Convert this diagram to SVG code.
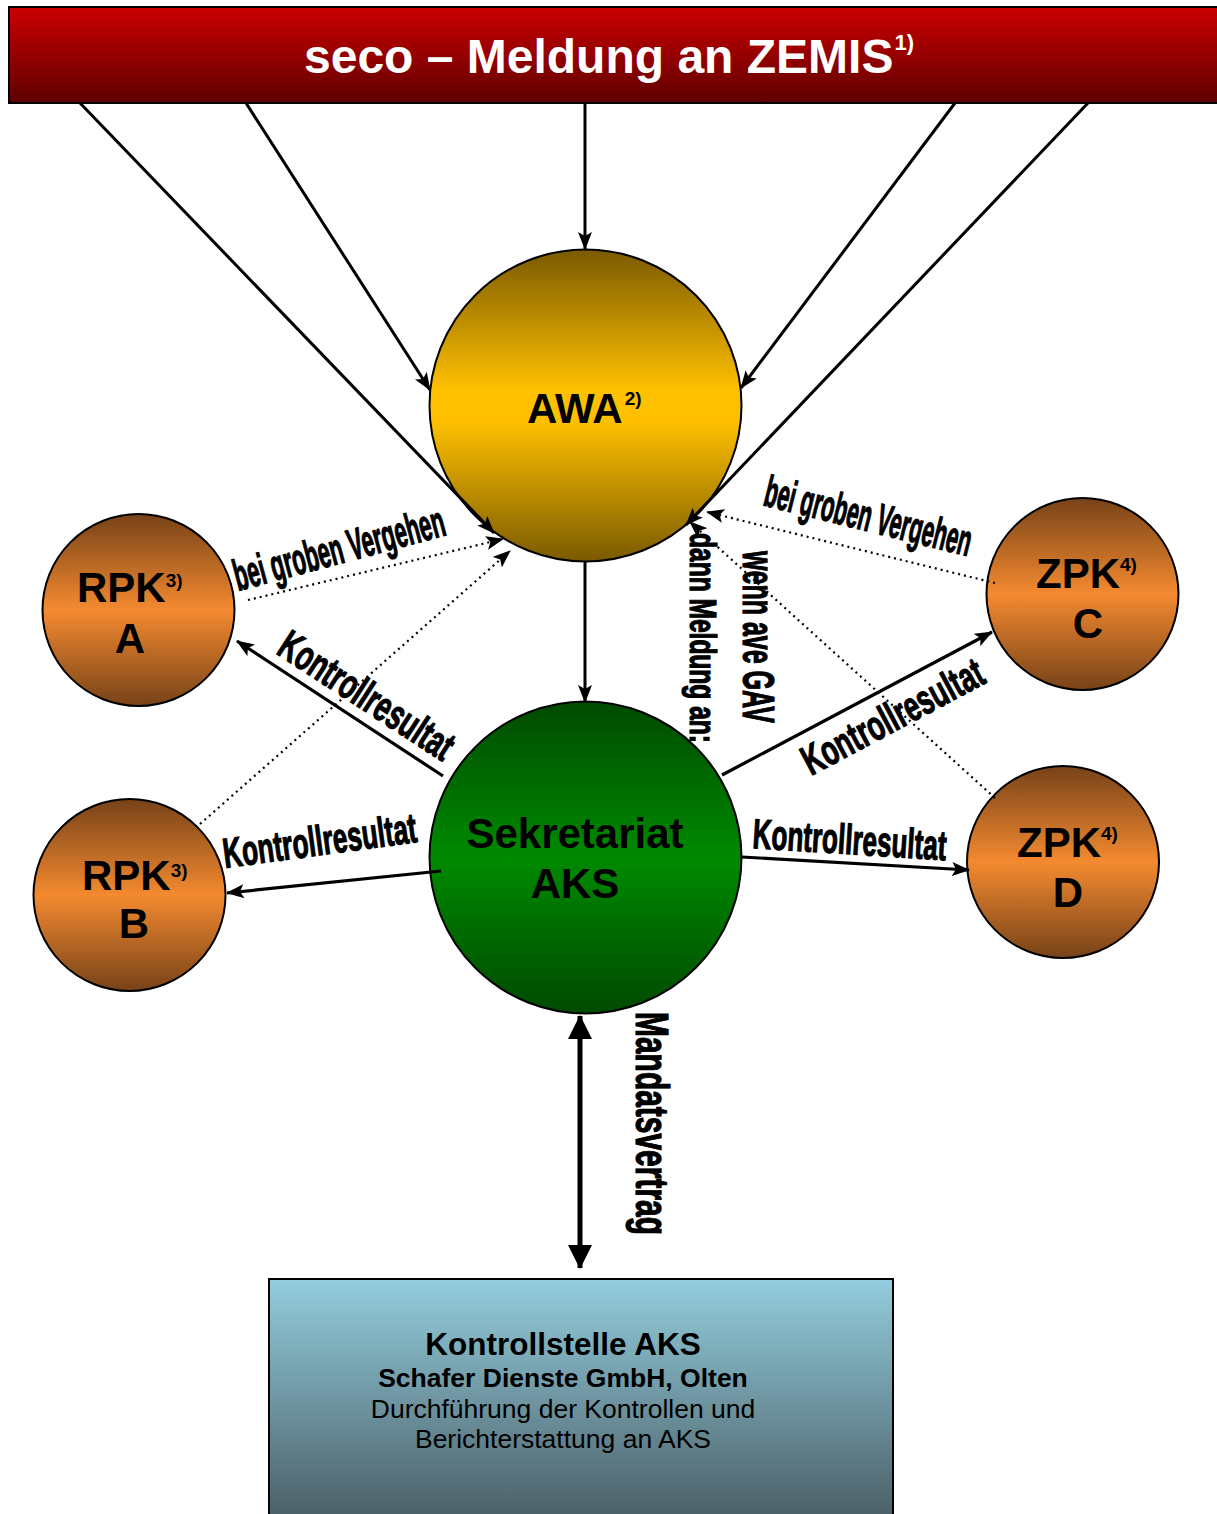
<svg xmlns="http://www.w3.org/2000/svg" width="1217" height="1514" viewBox="0 0 1217 1514">
<defs>
<linearGradient id="gRed" x1="0" y1="0" x2="0" y2="1"><stop offset="0" stop-color="#cc0000"/><stop offset="1" stop-color="#5e0000"/></linearGradient>
<linearGradient id="gAwa" x1="0" y1="0" x2="0" y2="1"><stop offset="0" stop-color="#7a5a00"/><stop offset="0.45" stop-color="#ffc000"/><stop offset="0.55" stop-color="#ffc000"/><stop offset="1" stop-color="#7a5a00"/></linearGradient>
<linearGradient id="gSek" x1="0" y1="0" x2="0" y2="1"><stop offset="0" stop-color="#004a00"/><stop offset="0.5" stop-color="#008a00"/><stop offset="1" stop-color="#004a00"/></linearGradient>
<linearGradient id="gOr" x1="0" y1="0" x2="0" y2="1"><stop offset="0" stop-color="#774218"/><stop offset="0.5" stop-color="#f48a30"/><stop offset="1" stop-color="#774218"/></linearGradient>
<linearGradient id="gBox" x1="0" y1="0" x2="0" y2="1"><stop offset="0" stop-color="#93cddd"/><stop offset="1" stop-color="#485a62"/></linearGradient>
<marker id="ah" viewBox="0 0 18 14" markerUnits="userSpaceOnUse" markerWidth="18" markerHeight="14" refX="17" refY="7" orient="auto"><path d="M0,0 L18,7 L0,14 L4,7 z" fill="#000"/></marker>
<marker id="ahBig" viewBox="0 0 24 24" markerUnits="userSpaceOnUse" markerWidth="24" markerHeight="24" refX="23" refY="12" orient="auto-start-reverse"><path d="M0,0 L24,12 L0,24 z" fill="#000"/></marker>
<style>
.node{stroke:#000;stroke-width:2}
.nt{font-family:"Liberation Sans",Arial,sans-serif;font-weight:bold;fill:#000}
.sol{stroke:#000;stroke-width:3;fill:none;marker-end:url(#ah)}
.thk{stroke:#000;stroke-width:3.2;fill:none;marker-end:url(#ah)}
.dot{stroke:#000;stroke-width:2.2;stroke-dasharray:2 4;fill:none;marker-end:url(#ah)}
.lb{font-family:"Liberation Sans",Arial,sans-serif;font-weight:bold;fill:#000;stroke:#000;stroke-width:1.2}
</style>
</defs>
<rect width="1217" height="1514" fill="#fff"/>

<g id="seco">
<rect x="9" y="7" width="1212" height="96" fill="url(#gRed)" class="node"/>
<text x="304" y="73" font-size="48" class="nt" style="fill:#fff">seco – Meldung an ZEMIS<tspan font-size="22" dy="-23" dx="1">1)</tspan></text>
</g>

<g id="awa">
<circle cx="585.5" cy="405.5" r="156" fill="url(#gAwa)" class="node"/>
<text x="527" y="423" font-size="42" class="nt">AWA<tspan font-size="19" dy="-18" dx="2">2)</tspan></text>
</g>

<g id="sekretariat">
<circle cx="585.5" cy="857.5" r="156" fill="url(#gSek)" class="node"/>
<text x="575" y="848" font-size="42" class="nt" text-anchor="middle">Sekretariat</text>
<text x="575" y="898" font-size="42" class="nt" text-anchor="middle">AKS</text>
</g>

<g id="rpkA">
<circle cx="138.5" cy="610" r="96" fill="url(#gOr)" class="node"/>
<text x="77" y="602" font-size="42" class="nt">RPK<tspan font-size="19" dy="-15">3)</tspan></text>
<text x="130" y="653" font-size="42" class="nt" text-anchor="middle">A</text>
</g>

<g id="rpkB">
<circle cx="129.5" cy="895" r="96" fill="url(#gOr)" class="node"/>
<text x="82" y="890" font-size="42" class="nt">RPK<tspan font-size="19" dy="-13">3)</tspan></text>
<text x="134" y="938" font-size="42" class="nt" text-anchor="middle">B</text>
</g>

<g id="zpkC">
<circle cx="1082.5" cy="594" r="96" fill="url(#gOr)" class="node"/>
<text x="1036" y="588" font-size="42" class="nt">ZPK<tspan font-size="19" dy="-17">4)</tspan></text>
<text x="1088" y="638" font-size="42" class="nt" text-anchor="middle">C</text>
</g>

<g id="zpkD">
<circle cx="1063" cy="862" r="96" fill="url(#gOr)" class="node"/>
<text x="1017" y="857" font-size="42" class="nt">ZPK<tspan font-size="19" dy="-17">4)</tspan></text>
<text x="1068" y="907" font-size="42" class="nt" text-anchor="middle">D</text>
</g>

<g id="kontrollstelle">
<rect x="269" y="1279" width="624" height="250" fill="url(#gBox)" class="node"/>
<text x="563" y="1355" font-size="31.5" class="nt" text-anchor="middle">Kontrollstelle AKS</text>
<text x="563" y="1387" font-size="26.5" class="nt" text-anchor="middle">Schafer Dienste GmbH, Olten</text>
<text x="563" y="1418" font-size="26.5" text-anchor="middle" font-family="Liberation Sans, Arial, sans-serif" fill="#000">Durchführung der Kontrollen und</text>
<text x="563" y="1448" font-size="26.5" text-anchor="middle" font-family="Liberation Sans, Arial, sans-serif" fill="#000">Berichterstattung an AKS</text>
</g>

<g id="connectors">
<line x1="80" y1="103" x2="494" y2="533" class="sol"/>
<line x1="246" y1="103" x2="430" y2="390" class="sol"/>
<line x1="585" y1="104" x2="585" y2="249" class="sol"/>
<line x1="955" y1="103" x2="741" y2="388" class="sol"/>
<line x1="1088" y1="103" x2="686" y2="525" class="sol"/>
<line x1="585" y1="562" x2="585" y2="702" class="sol"/>
<line x1="248" y1="600" x2="503" y2="539" class="dot"/>
<line x1="200" y1="824" x2="510" y2="551" class="dot"/>
<line x1="995" y1="583" x2="707" y2="512" class="dot"/>
<line x1="995" y1="798" x2="690" y2="522" class="dot"/>
<line x1="443" y1="776" x2="237" y2="641" class="thk"/>
<line x1="441" y1="871" x2="227" y2="893" class="thk"/>
<line x1="722" y1="775" x2="992" y2="632" class="thk"/>
<line x1="742" y1="857" x2="969" y2="870" class="thk"/>
<line x1="580" y1="1016" x2="580" y2="1268" stroke="#000" stroke-width="5" marker-start="url(#ahBig)" marker-end="url(#ahBig)"/>
</g>

<g id="labels">
<text class="lb" font-size="44" textLength="217" lengthAdjust="spacingAndGlyphs" transform="translate(238,591) rotate(-15)">bei groben Vergehen</text>
<text class="lb" font-size="44" textLength="212" lengthAdjust="spacingAndGlyphs" transform="translate(762,505) rotate(14)">bei groben Vergehen</text>
<text class="lb" font-size="42" textLength="200" lengthAdjust="spacingAndGlyphs" transform="translate(275,653) rotate(33)">Kontrollresultat</text>
<text class="lb" font-size="42" textLength="195" lengthAdjust="spacingAndGlyphs" transform="translate(225,868) rotate(-7.7)">Kontrollresultat</text>
<text class="lb" font-size="42" textLength="200" lengthAdjust="spacingAndGlyphs" transform="translate(811,776) rotate(-28)">Kontrollresultat</text>
<text class="lb" font-size="42" textLength="194" lengthAdjust="spacingAndGlyphs" transform="translate(752,848) rotate(3.6)">Kontrollresultat</text>
<text class="lb" font-size="36" textLength="210" lengthAdjust="spacingAndGlyphs" transform="translate(690,533) rotate(90)">dann Meldung an:</text>
<text class="lb" font-size="44" textLength="172" lengthAdjust="spacingAndGlyphs" transform="translate(743,551) rotate(90)">wenn ave GAV</text>
<text class="lb" font-size="46" textLength="223" lengthAdjust="spacingAndGlyphs" transform="translate(636,1012) rotate(90)">Mandatsvertrag</text>
</g>
</svg>
